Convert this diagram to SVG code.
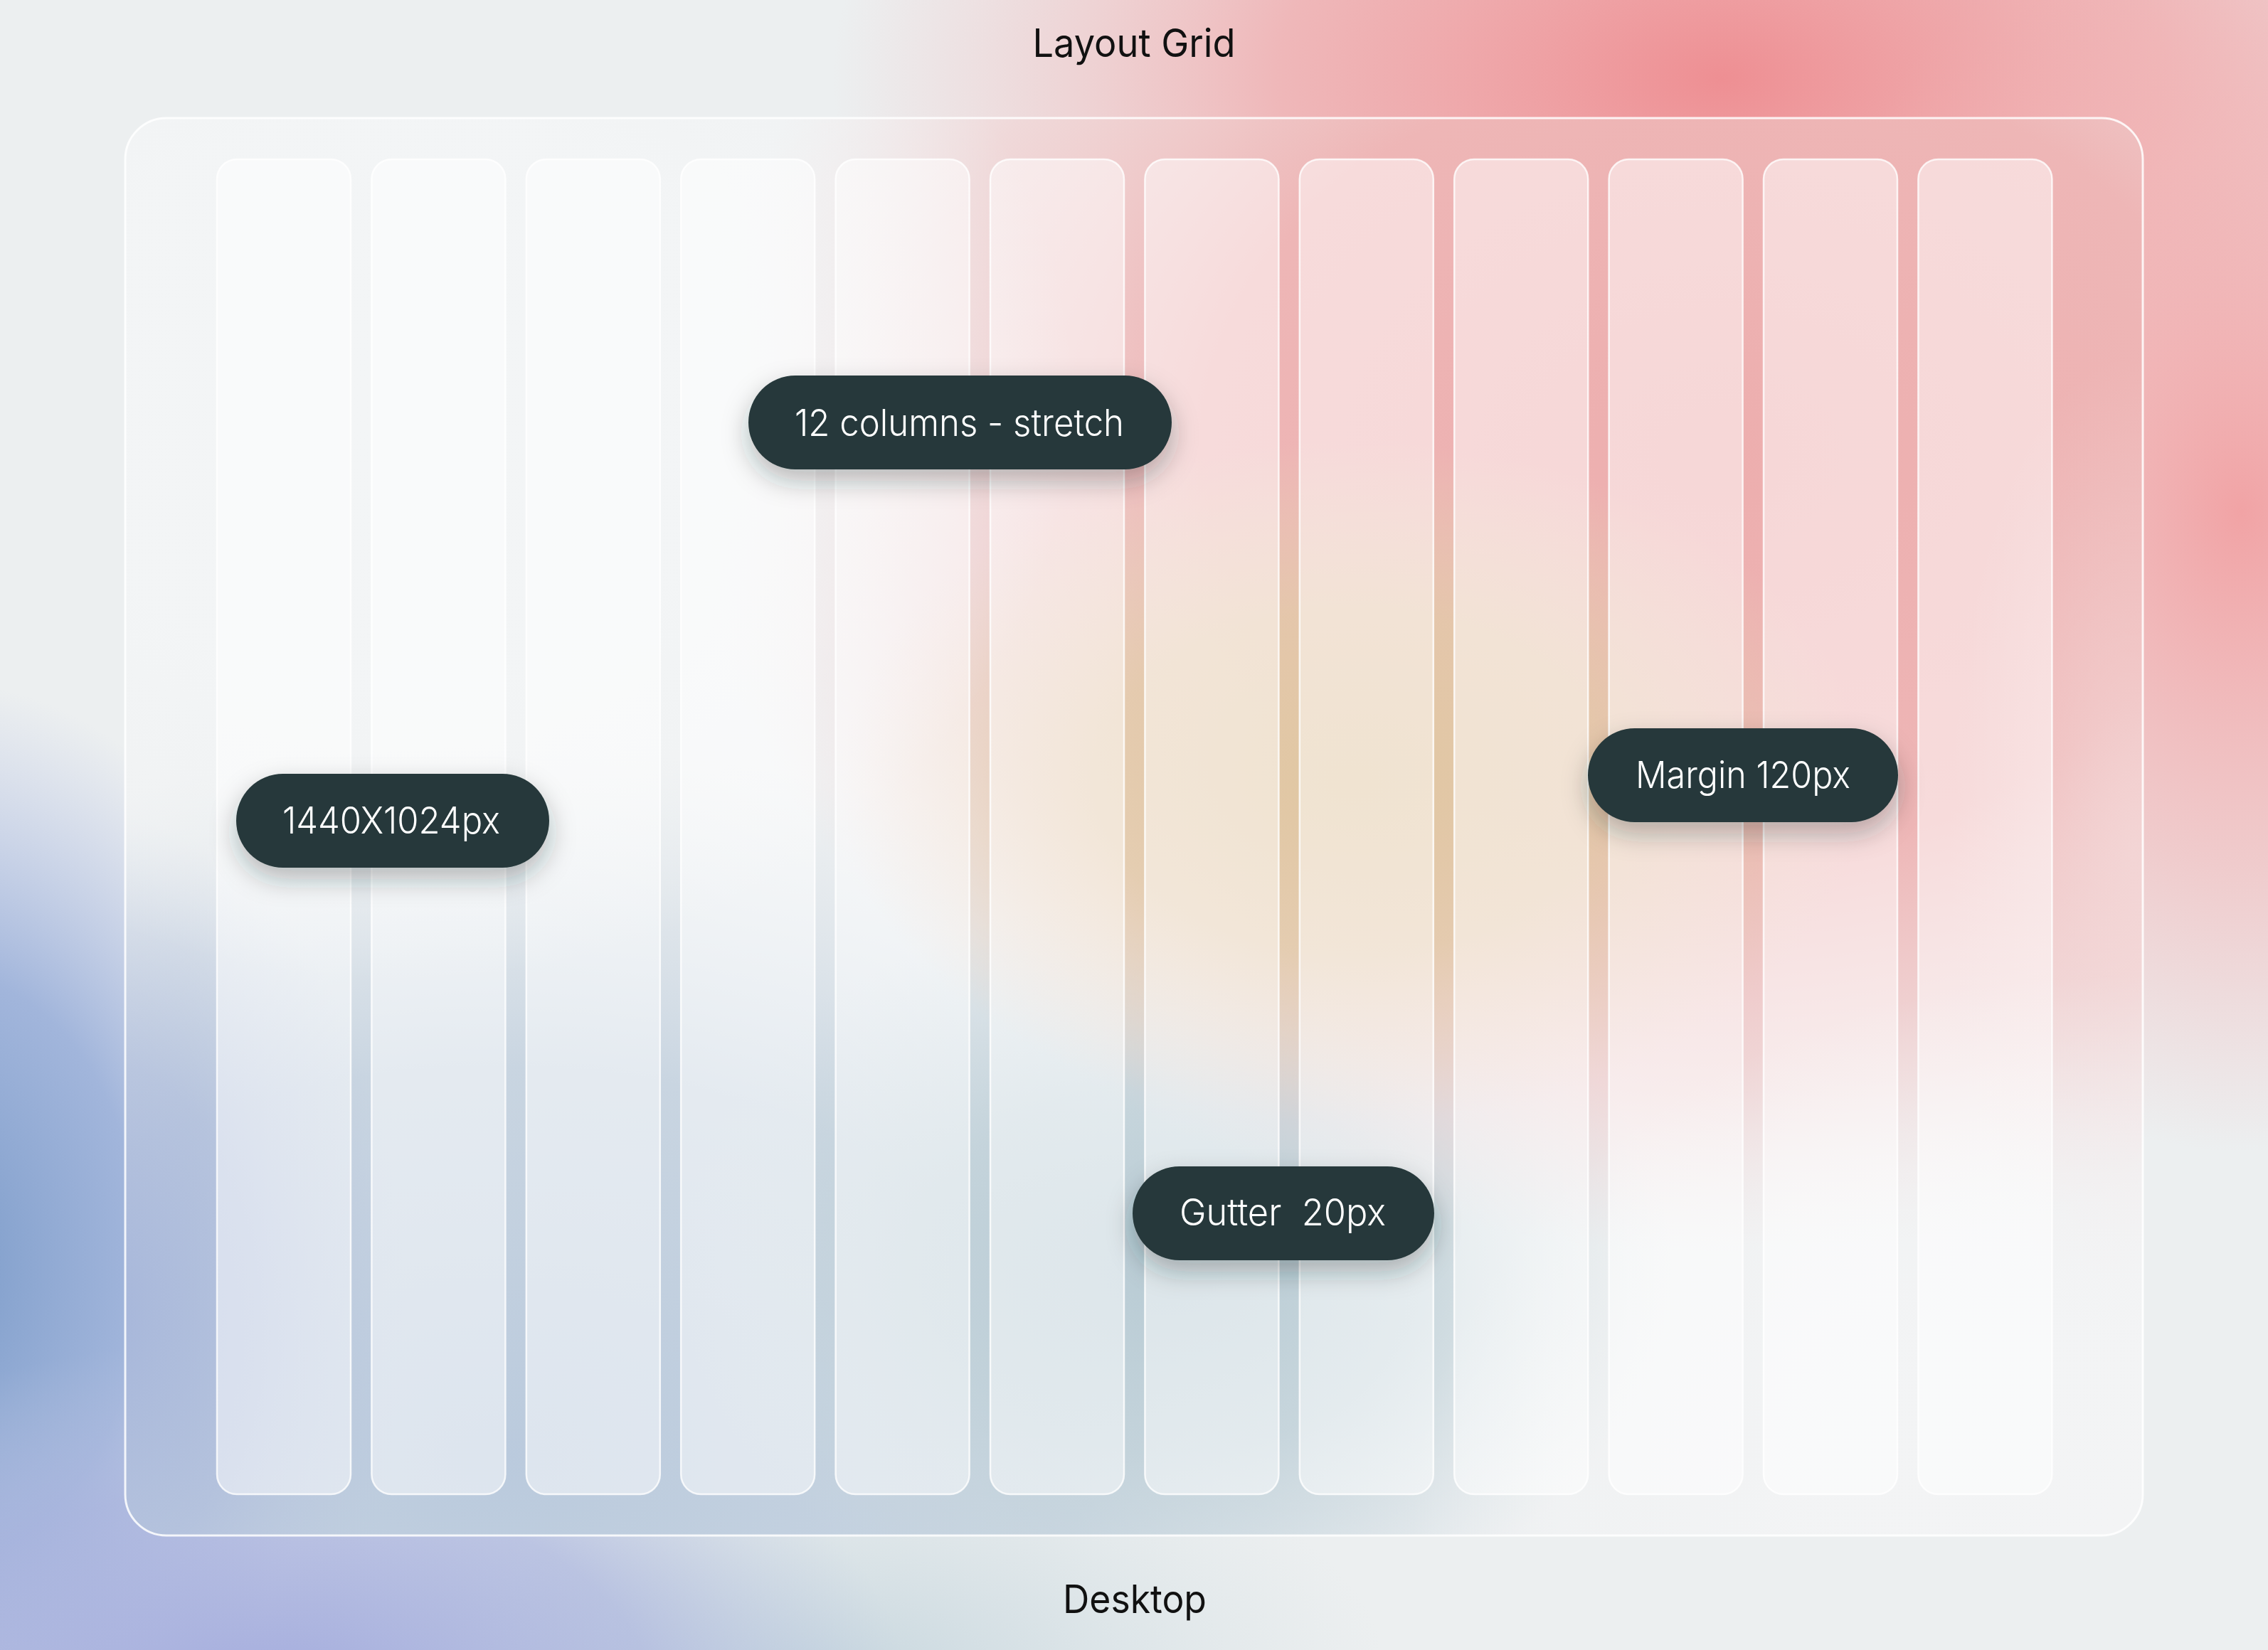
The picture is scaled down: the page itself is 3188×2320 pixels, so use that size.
<svg xmlns="http://www.w3.org/2000/svg" width="3188" height="2320" viewBox="0 0 3188 2320">
<defs>
<style>
.title{font-family:Inter,"Liberation Sans",sans-serif;font-size:55px;fill:#111;text-anchor:middle}
.pill{fill:#25383A}
.ptext{font-family:Inter,"Liberation Sans",sans-serif;font-size:52px;font-weight:300;fill:#fff;text-anchor:middle;white-space:pre}
.col{fill:#ffffff;fill-opacity:0.5;stroke:#ffffff;stroke-opacity:0.8;stroke-width:2.5}
</style>
<radialGradient id="bgPink" gradientUnits="userSpaceOnUse" cx="0" cy="0" r="1" gradientTransform="translate(2420 110) scale(1250 700)">
<stop offset="0" stop-color="#EE8F93" stop-opacity="1"/>
<stop offset="0.5" stop-color="#F0A5A7" stop-opacity="0.75"/>
<stop offset="1" stop-color="#F2B5B6" stop-opacity="0"/>
</radialGradient>
<radialGradient id="bgPinkR" gradientUnits="userSpaceOnUse" cx="0" cy="0" r="1" gradientTransform="translate(3150 720) scale(650 900)">
<stop offset="0" stop-color="#F1A3A5" stop-opacity="1"/>
<stop offset="0.55" stop-color="#F2B3B4" stop-opacity="0.6"/>
<stop offset="1" stop-color="#F2B3B4" stop-opacity="0"/>
</radialGradient>
<radialGradient id="bgBlue" gradientUnits="userSpaceOnUse" cx="0" cy="0" r="1" gradientTransform="translate(-80 1780) scale(560 820)">
<stop offset="0" stop-color="#7C9CC9" stop-opacity="1"/>
<stop offset="0.5" stop-color="#8FA7D6" stop-opacity="0.8"/>
<stop offset="1" stop-color="#A9B6E2" stop-opacity="0"/>
</radialGradient>
<radialGradient id="bgLav" gradientUnits="userSpaceOnUse" cx="0" cy="0" r="1" gradientTransform="translate(380 2400) scale(900 520)">
<stop offset="0" stop-color="#A2AADD" stop-opacity="1"/>
<stop offset="0.6" stop-color="#AAB4DE" stop-opacity="0.7"/>
<stop offset="1" stop-color="#B8C4E0" stop-opacity="0"/>
</radialGradient>
<radialGradient id="bgBG" gradientUnits="userSpaceOnUse" cx="0" cy="0" r="1" gradientTransform="translate(1150 2360) scale(800 380)">
<stop offset="0" stop-color="#C6D6DE" stop-opacity="1"/>
<stop offset="1" stop-color="#D2DEE2" stop-opacity="0"/>
</radialGradient>
<clipPath id="panelClip"><rect x="176" y="166" width="2836" height="1993" rx="58"/></clipPath>
<radialGradient id="pBlueWide" gradientUnits="userSpaceOnUse" cx="0" cy="0" r="1" gradientTransform="translate(700 2050) scale(1500 1000)">
<stop offset="0" stop-color="#BACADD" stop-opacity="1"/>
<stop offset="0.55" stop-color="#C2D0DE" stop-opacity="0.85"/>
<stop offset="1" stop-color="#D0DBE4" stop-opacity="0"/>
</radialGradient>
<radialGradient id="pLav" gradientUnits="userSpaceOnUse" cx="0" cy="0" r="1" gradientTransform="translate(150 1850) scale(420 700)">
<stop offset="0" stop-color="#A6B6DA" stop-opacity="1"/>
<stop offset="0.5" stop-color="#AEBCDC" stop-opacity="0.7"/>
<stop offset="1" stop-color="#BCC8E0" stop-opacity="0"/>
</radialGradient>
<radialGradient id="pBG" gradientUnits="userSpaceOnUse" cx="0" cy="0" r="1" gradientTransform="translate(1650 1780) scale(700 520)">
<stop offset="0" stop-color="#B8CBD4" stop-opacity="1"/>
<stop offset="0.5" stop-color="#C0D1D8" stop-opacity="0.75"/>
<stop offset="1" stop-color="#CCDADE" stop-opacity="0"/>
</radialGradient>
<radialGradient id="pPink" gradientUnits="userSpaceOnUse" cx="0" cy="0" r="1" gradientTransform="translate(2420 640) scale(1450 1120)">
<stop offset="0" stop-color="#EDAEAE" stop-opacity="1"/>
<stop offset="0.5" stop-color="#EEB3B3" stop-opacity="0.95"/>
<stop offset="0.8" stop-color="#F0C0C0" stop-opacity="0.5"/>
<stop offset="1" stop-color="#F2CACA" stop-opacity="0"/>
</radialGradient>
<radialGradient id="pEdgeR" gradientUnits="userSpaceOnUse" cx="0" cy="0" r="1" gradientTransform="translate(3000 1200) scale(260 700)">
<stop offset="0" stop-color="#F4D8D8" stop-opacity="0.8"/>
<stop offset="1" stop-color="#F4D8D8" stop-opacity="0"/>
</radialGradient>
<radialGradient id="pTan" gradientUnits="userSpaceOnUse" cx="0" cy="0" r="1" gradientTransform="translate(1900 1100) scale(720 480)">
<stop offset="0" stop-color="#E0C7A2" stop-opacity="1"/>
<stop offset="0.5" stop-color="#E2CBA8" stop-opacity="0.8"/>
<stop offset="1" stop-color="#E6D4B8" stop-opacity="0"/>
</radialGradient>
<radialGradient id="pWhiteTL" gradientUnits="userSpaceOnUse" cx="0" cy="0" r="1" gradientTransform="translate(560 560) scale(950 820)">
<stop offset="0" stop-color="#F3F5F6" stop-opacity="1"/>
<stop offset="0.5" stop-color="#F3F5F6" stop-opacity="0.95"/>
<stop offset="1" stop-color="#F3F5F6" stop-opacity="0"/>
</radialGradient>
<radialGradient id="pWhiteBR" gradientUnits="userSpaceOnUse" cx="0" cy="0" r="1" gradientTransform="translate(2980 2150) scale(1000 780)">
<stop offset="0" stop-color="#F3F4F5" stop-opacity="1"/>
<stop offset="0.45" stop-color="#F3F4F5" stop-opacity="0.9"/>
<stop offset="1" stop-color="#F3F4F5" stop-opacity="0"/>
</radialGradient>
<filter id="shadow" x="-30%" y="-40%" width="160%" height="200%">
<feDropShadow dx="0" dy="16" stdDeviation="18" flood-color="#1E2E30" flood-opacity="0.3"/>
</filter>
</defs>

<g id="background">
<rect x="0" y="0" width="3188" height="2320" fill="#ECEFF0"/>
<rect x="0" y="0" width="3188" height="2320" fill="url(#bgPink)"/>
<rect x="0" y="0" width="3188" height="2320" fill="url(#bgPinkR)"/>
<rect x="0" y="0" width="3188" height="2320" fill="url(#bgBG)"/>
<rect x="0" y="0" width="3188" height="2320" fill="url(#bgBlue)"/>
<rect x="0" y="0" width="3188" height="2320" fill="url(#bgLav)"/>
</g>

<g id="panel">
<g clip-path="url(#panelClip)">
<rect x="176" y="166" width="2836" height="1993" fill="#EFF1F2"/>
<rect x="176" y="166" width="2836" height="1993" fill="url(#pBlueWide)"/>
<rect x="176" y="166" width="2836" height="1993" fill="url(#pLav)"/>
<rect x="176" y="166" width="2836" height="1993" fill="url(#pBG)"/>
<rect x="176" y="166" width="2836" height="1993" fill="url(#pPink)"/>
<rect x="176" y="166" width="2836" height="1993" fill="url(#pEdgeR)"/>
<rect x="176" y="166" width="2836" height="1993" fill="url(#pTan)"/>
<rect x="176" y="166" width="2836" height="1993" fill="url(#pWhiteTL)"/>
<rect x="176" y="166" width="2836" height="1993" fill="url(#pWhiteBR)"/>
</g>
<rect x="176" y="166" width="2836" height="1993" rx="58" fill="none" stroke="#ffffff" stroke-opacity="0.85" stroke-width="3"/>
</g>

<g id="columns">
<rect class="col" x="305" y="224" width="188" height="1877" rx="28"/>
<rect class="col" x="522.4" y="224" width="188" height="1877" rx="28"/>
<rect class="col" x="739.8" y="224" width="188" height="1877" rx="28"/>
<rect class="col" x="957.2" y="224" width="188" height="1877" rx="28"/>
<rect class="col" x="1174.6" y="224" width="188" height="1877" rx="28"/>
<rect class="col" x="1392" y="224" width="188" height="1877" rx="28"/>
<rect class="col" x="1609.4" y="224" width="188" height="1877" rx="28"/>
<rect class="col" x="1826.8" y="224" width="188" height="1877" rx="28"/>
<rect class="col" x="2044.2" y="224" width="188" height="1877" rx="28"/>
<rect class="col" x="2261.6" y="224" width="188" height="1877" rx="28"/>
<rect class="col" x="2479" y="224" width="188" height="1877" rx="28"/>
<rect class="col" x="2696.4" y="224" width="188" height="1877" rx="28"/>
</g>

<g id="connectors"></g>

<g id="title-layout-grid">
<text class="title" x="1594" y="80" textLength="285" lengthAdjust="spacingAndGlyphs">Layout Grid</text>
</g>
<g id="title-desktop">
<text class="title" x="1595" y="2268" textLength="202" lengthAdjust="spacingAndGlyphs">Desktop</text>
</g>

<g id="pill-columns" filter="url(#shadow)">
<rect class="pill" x="1052" y="528" width="595" height="132" rx="66"/>
<text class="ptext" x="1348.5" y="613" textLength="463" lengthAdjust="spacingAndGlyphs">12 columns - stretch</text>
</g>
<g id="pill-size" filter="url(#shadow)">
<rect class="pill" x="332" y="1088" width="440" height="132" rx="66"/>
<text class="ptext" x="550" y="1172" textLength="306" lengthAdjust="spacingAndGlyphs">1440X1024px</text>
</g>
<g id="pill-margin" filter="url(#shadow)">
<rect class="pill" x="2232" y="1024" width="436" height="132" rx="66"/>
<text class="ptext" x="2450" y="1108" textLength="302" lengthAdjust="spacingAndGlyphs">Margin 120px</text>
</g>
<g id="pill-gutter" filter="url(#shadow)">
<rect class="pill" x="1592" y="1640" width="424" height="132" rx="66"/>
<text class="ptext" x="1803" y="1723" textLength="290" lengthAdjust="spacingAndGlyphs">Gutter  20px</text>
</g>
</svg>
